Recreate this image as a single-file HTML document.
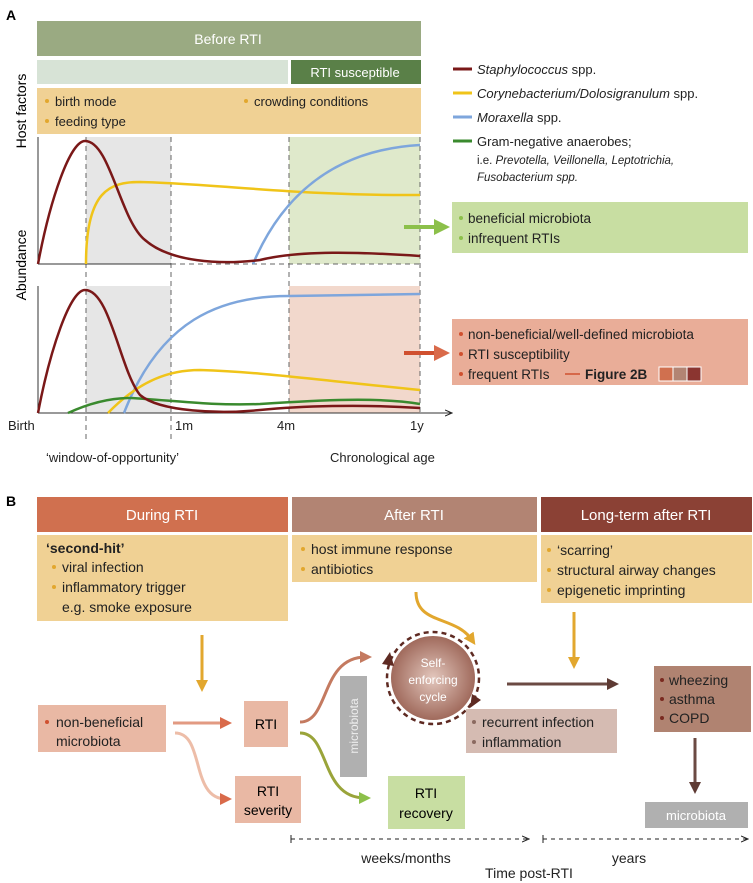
<!DOCTYPE html>
<html><head><meta charset="utf-8"><style>
html,body{margin:0;padding:0;background:#fff}
svg{display:block;font-family:"Liberation Sans",sans-serif}
</style></head><body>
<svg width="753" height="883" viewBox="0 0 753 883" xmlns="http://www.w3.org/2000/svg">
<defs>
<marker id="ay" markerWidth="4" markerHeight="4" refX="2" refY="2" orient="auto"><path d="M0,0 L4,2 L0,4 z" fill="#e2a72e"/></marker>
<marker id="ab" markerWidth="4" markerHeight="4" refX="2" refY="2" orient="auto"><path d="M0,0 L4,2 L0,4 z" fill="#5e3a33"/></marker>
<marker id="ar" markerWidth="4" markerHeight="4" refX="2" refY="2" orient="auto"><path d="M0,0 L4,2 L0,4 z" fill="#d96a4a"/></marker>
<marker id="ap" markerWidth="4" markerHeight="4" refX="2" refY="2" orient="auto"><path d="M0,0 L4,2 L0,4 z" fill="#c47a60"/></marker>
<marker id="ag" markerWidth="4" markerHeight="4" refX="2" refY="2" orient="auto"><path d="M0,0 L4,2 L0,4 z" fill="#8cc04a"/></marker>
<marker id="at" markerWidth="8" markerHeight="8" refX="7" refY="4" orient="auto"><path d="M0,1 L7,4 L0,7" fill="none" stroke="#222" stroke-width="1"/></marker>
<radialGradient id="cg"><stop offset="0" stop-color="#e3c7bd"/><stop offset="1" stop-color="#a06a5c"/></radialGradient>
</defs>
<text x="6" y="20" font-weight="bold" font-size="14">A</text>
<rect x="37" y="21" width="384" height="35" fill="#9aaa82"/>
<text x="228" y="44" fill="#fff" font-size="14" text-anchor="middle">Before RTI</text>
<rect x="37" y="60" width="251" height="24" fill="#d7e3d6"/>
<rect x="291" y="60" width="130" height="24" fill="#5a8048"/>
<text x="355" y="77" fill="#fff" font-size="13" text-anchor="middle">RTI susceptible</text>
<rect x="37" y="88" width="384" height="46" fill="#f0d194"/>
<g font-size="13" fill="#222"><circle cx="47" cy="101" r="2" fill="#e2a72e"/><text x="55" y="106">birth mode</text>
<circle cx="47" cy="121" r="2" fill="#e2a72e"/><text x="55" y="126">feeding type</text>
<circle cx="246" cy="101" r="2" fill="#e2a72e"/><text x="254" y="106">crowding conditions</text></g>
<text transform="translate(26,111) rotate(-90)" font-size="14" text-anchor="middle">Host factors</text>
<text transform="translate(26,265) rotate(-90)" font-size="14" text-anchor="middle">Abundance</text>
<rect x="86" y="137" width="85" height="127" fill="#e6e6e6"/>
<rect x="289" y="137" width="131" height="127" fill="#dfe9cb"/>
<rect x="86" y="286" width="85" height="127" fill="#e6e6e6"/>
<rect x="289" y="286" width="131" height="127" fill="#f2d8cc"/>
<g stroke="#666" stroke-dasharray="5,4" stroke-width="1" fill="none">
<line x1="86" y1="137" x2="86" y2="440"/><line x1="171" y1="137" x2="171" y2="440"/>
<line x1="289" y1="137" x2="289" y2="413"/><line x1="420" y1="137" x2="420" y2="413"/>
<line x1="171" y1="264" x2="420" y2="264"/></g>
<g stroke="#333" stroke-width="1"><line x1="38" y1="137" x2="38" y2="264"/><line x1="38" y1="264" x2="171" y2="264"/>
<line x1="38" y1="286" x2="38" y2="413"/><line x1="38" y1="413" x2="452" y2="413" marker-end="url(#at)"/></g>
<g fill="none" stroke-width="2.5">
<path d="M86,264 C86,190 110,182 140,182 C220,184 300,196 420,195" stroke="#f0c419"/>
<path d="M253,264 C280,200 330,150 420,145" stroke="#7ea6dc"/>
<path d="M38,264 C50,200 70,141 85,141 C110,141 120,220 145,240 C170,262 220,265 260,260 C300,250 360,252 420,256" stroke="#7a1818"/>
<path d="M124,413 C160,320 220,296 289,296 L420,294" stroke="#7ea6dc"/>
<path d="M108,413 C140,380 170,370 200,370 C260,372 300,378 420,390" stroke="#f0c419"/>
<path d="M68,413 C90,403 110,398 130,398 C170,400 210,406 260,404 C320,400 380,397 420,404" stroke="#3a8a2e"/>
<path d="M38,413 C50,350 70,290 85,290 C110,290 120,370 140,395 C160,412 220,414 260,410 C300,406 360,404 420,408" stroke="#7a1818"/>
</g>
<g font-size="13" fill="#222"><text x="8" y="430">Birth</text><text x="175" y="430">1m</text><text x="277" y="430">4m</text><text x="410" y="430">1y</text>
<text x="46" y="462">‘window-of-opportunity’</text><text x="330" y="462">Chronological age</text></g>
<g font-size="13" fill="#222">
<line x1="453" y1="69" x2="472" y2="69" stroke="#7a1818" stroke-width="3"/><text x="477" y="74"><tspan font-style="italic">Staphylococcus</tspan> spp.</text>
<line x1="453" y1="93" x2="472" y2="93" stroke="#f0c419" stroke-width="3"/><text x="477" y="98"><tspan font-style="italic">Corynebacterium/Dolosigranulum</tspan> spp.</text>
<line x1="453" y1="117" x2="472" y2="117" stroke="#7ea6dc" stroke-width="3"/><text x="477" y="122"><tspan font-style="italic">Moraxella</tspan> spp.</text>
<line x1="453" y1="141" x2="472" y2="141" stroke="#3a8a2e" stroke-width="3"/><text x="477" y="146">Gram-negative anaerobes;</text>
<text x="477" y="164" font-size="11.5">i.e. <tspan font-style="italic">Prevotella, Veillonella, Leptotrichia,</tspan></text>
<text x="477" y="181" font-size="11.5" font-style="italic">Fusobacterium spp.</text>
</g>
<rect x="452" y="202" width="296" height="51" fill="#c8dea2"/>
<line x1="404" y1="227" x2="442" y2="227" stroke="#8cc04a" stroke-width="4" marker-end="url(#ag)"/>
<g font-size="13.5" fill="#222"><circle cx="461" cy="218" r="2" fill="#8cc04a"/><text x="468" y="223">beneficial microbiota</text>
<circle cx="461" cy="238" r="2" fill="#8cc04a"/><text x="468" y="243">infrequent RTIs</text></g>
<rect x="452" y="319" width="296" height="66" fill="#e9ad98"/>
<line x1="404" y1="353" x2="442" y2="353" stroke="#d0502f" stroke-width="4" marker-end="url(#ar)"/>
<g font-size="13.5" fill="#222"><circle cx="461" cy="334" r="2" fill="#d0502f"/><text x="468" y="339">non-beneficial/well-defined microbiota</text>
<circle cx="461" cy="354" r="2" fill="#d0502f"/><text x="468" y="359">RTI susceptibility</text>
<circle cx="461" cy="374" r="2" fill="#d0502f"/><text x="468" y="379">frequent RTIs</text>
<line x1="565" y1="374" x2="580" y2="374" stroke="#d0502f" stroke-width="1.5"/>
<text x="585" y="379" font-weight="bold">Figure 2B</text>
<rect x="659" y="367" width="14" height="14" fill="#d0704f" stroke="#fff"/><rect x="673" y="367" width="14" height="14" fill="#b28473" stroke="#fff"/><rect x="687" y="367" width="14" height="14" fill="#8b3530" stroke="#fff"/></g>

<text x="6" y="506" font-weight="bold" font-size="14">B</text>
<rect x="37" y="497" width="251" height="35" fill="#d0704f"/><text x="162" y="520" fill="#fff" font-size="15" text-anchor="middle">During RTI</text>
<rect x="292" y="497" width="245" height="35" fill="#b28473"/><text x="414" y="520" fill="#fff" font-size="15" text-anchor="middle">After RTI</text>
<rect x="541" y="497" width="211" height="35" fill="#8b4135"/><text x="646" y="520" fill="#fff" font-size="15" text-anchor="middle">Long-term after RTI</text>
<rect x="37" y="535" width="251" height="86" fill="#f0d194"/>
<rect x="292" y="535" width="245" height="47" fill="#f0d194"/>
<rect x="541" y="535" width="211" height="68" fill="#f0d194"/>
<g font-size="14" fill="#222">
<text x="46" y="553" font-weight="bold">‘second-hit’</text>
<circle cx="54" cy="567" r="2" fill="#e2a72e"/><text x="62" y="572">viral infection</text>
<circle cx="54" cy="587" r="2" fill="#e2a72e"/><text x="62" y="592">inflammatory trigger</text>
<text x="62" y="612">e.g. smoke exposure</text>
<circle cx="303" cy="549" r="2" fill="#e2a72e"/><text x="311" y="554">host immune response</text>
<circle cx="303" cy="569" r="2" fill="#e2a72e"/><text x="311" y="574">antibiotics</text>
<circle cx="549" cy="550" r="2" fill="#e2a72e"/><text x="557" y="555">‘scarring’</text>
<circle cx="549" cy="570" r="2" fill="#e2a72e"/><text x="557" y="575">structural airway changes</text>
<circle cx="549" cy="590" r="2" fill="#e2a72e"/><text x="557" y="595">epigenetic imprinting</text>
</g>
<line x1="202" y1="635" x2="202" y2="686" stroke="#e2a72e" stroke-width="3" marker-end="url(#ay)"/>
<line x1="574" y1="612" x2="574" y2="663" stroke="#e2a72e" stroke-width="3" marker-end="url(#ay)"/>
<path d="M416,592 C416,625 455,615 472,640" fill="none" stroke="#e2a72e" stroke-width="3" marker-end="url(#ay)"/>
<rect x="38" y="705" width="128" height="47" fill="#e9b8a4"/>
<g font-size="14" fill="#222"><circle cx="47" cy="722" r="2" fill="#d0502f"/><text x="56" y="727">non-beneficial</text><text x="56" y="746">microbiota</text></g>
<rect x="244" y="701" width="44" height="46" fill="#e9b8a4"/><text x="266" y="729" font-size="14" text-anchor="middle">RTI</text>
<rect x="235" y="776" width="66" height="47" fill="#e9b8a4"/><text x="268" y="796" font-size="14" text-anchor="middle">RTI</text><text x="268" y="815" font-size="14" text-anchor="middle">severity</text>
<path d="M173,723 L226,723" stroke="#e29a82" stroke-width="3" marker-end="url(#ar)"/>
<path d="M175,733 C205,733 190,799 226,799" fill="none" stroke="#edbda8" stroke-width="3" marker-end="url(#ar)"/>
<path d="M300,722 C330,722 320,657 366,657" fill="none" stroke="#c47a60" stroke-width="3" marker-end="url(#ap)"/>
<path d="M300,733 C330,733 320,798 365,798" fill="none" stroke="#9aa43a" stroke-width="3" marker-end="url(#ag)"/>
<rect x="340" y="676" width="27" height="101" fill="#b0b0b0"/>
<text transform="translate(358,726) rotate(-90)" font-size="12" fill="#eee" text-anchor="middle">microbiota</text>
<circle cx="433" cy="678" r="42" fill="url(#cg)"/>
<circle cx="433" cy="678" r="46" fill="none" stroke="#5e2a22" stroke-width="2.5" stroke-dasharray="5,4"/>
<path d="M382,664 L390,652 L394,666 z" fill="#5e2a22"/>
<path d="M472,694 L481,700 L470,708 z" fill="#5e2a22"/>
<g font-size="12" fill="#fff" text-anchor="middle"><text x="433" y="667">Self-</text><text x="433" y="684">enforcing</text><text x="433" y="701">cycle</text></g>
<rect x="466" y="709" width="151" height="44" fill="#d5bbb2"/>
<g font-size="14" fill="#222"><circle cx="474" cy="722" r="2" fill="#8b6a60"/><text x="482" y="727">recurrent infection</text>
<circle cx="474" cy="742" r="2" fill="#8b6a60"/><text x="482" y="747">inflammation</text></g>
<line x1="507" y1="684" x2="613" y2="684" stroke="#6b4a43" stroke-width="3" marker-end="url(#ab)"/>
<rect x="654" y="666" width="97" height="66" fill="#b08371"/>
<g font-size="14" fill="#222"><circle cx="662" cy="680" r="2" fill="#7a2a20"/><text x="669" y="685">wheezing</text>
<circle cx="662" cy="699" r="2" fill="#7a2a20"/><text x="669" y="704">asthma</text>
<circle cx="662" cy="718" r="2" fill="#7a2a20"/><text x="669" y="723">COPD</text></g>
<line x1="695" y1="738" x2="695" y2="788" stroke="#6b4a43" stroke-width="3" marker-end="url(#ab)"/>
<rect x="645" y="802" width="103" height="26" fill="#b0b0b0"/><text x="696" y="820" font-size="13" fill="#fff" text-anchor="middle">microbiota</text>
<rect x="388" y="776" width="77" height="53" fill="#c8dea2"/>
<text x="426" y="798" font-size="14" text-anchor="middle">RTI</text><text x="426" y="818" font-size="14" text-anchor="middle">recovery</text>
<g stroke="#222" stroke-width="1" fill="none">
<line x1="291" y1="835" x2="291" y2="843"/><line x1="291" y1="839" x2="529" y2="839" stroke-dasharray="4,4" marker-end="url(#at)"/>
<line x1="543" y1="835" x2="543" y2="843"/><line x1="543" y1="839" x2="748" y2="839" stroke-dasharray="4,4" marker-end="url(#at)"/></g>
<g font-size="14" fill="#222" text-anchor="middle"><text x="406" y="863">weeks/months</text><text x="629" y="863">years</text><text x="529" y="878">Time post-RTI</text></g>
</svg>
</body></html>
